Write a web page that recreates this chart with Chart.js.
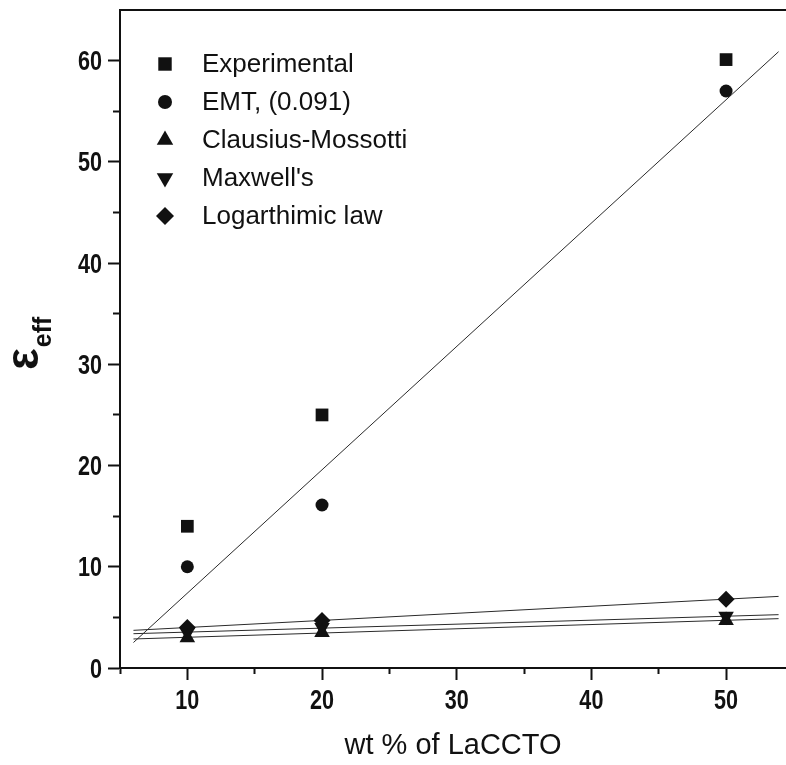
<!DOCTYPE html>
<html>
<head>
<meta charset="utf-8">
<script src="https://cdn.jsdelivr.net/npm/chart.js@4.4.1/dist/chart.umd.min.js"></script>
<style>
  html, body { margin: 0; padding: 0; background: #fff; }
  #wrap { width: 786px; height: 765px; }
</style>
</head>
<body>
<div id="wrap"><canvas id="chart" width="786" height="765"></canvas></div>
<script>
// wt % of LaCCTO in the composite
const wtPercent = [10, 20, 50];

// effective permittivity: measured and model predictions
const experimental     = [14, 25, 60.1];
const emt              = [10, 16.1, 57];
const clausiusMossotti = [3.0, 3.5, 4.7];
const maxwell          = [3.5, 4.0, 5.1];
const logarithmic      = [4.0, 4.7, 6.8];

const seriesNames = ['Experimental', 'EMT, (0.091)', 'Clausius-Mossotti', "Maxwell's", 'Logarthimic law'];

// axis ticks
const xMajorTicks = [10, 20, 30, 40, 50];
const xMinorTicks = [5, 15, 25, 35, 45];
const yMajorTicks = [0, 10, 20, 30, 40, 50, 60];
const yMinorTicks = [5, 15, 25, 35, 45, 55];

// x range over which the linear fits are drawn
const fitSpan = [6, 53.9];

const INK = '#111';
const X_MIN = 5, X_MAX = 54.45, Y_MIN = 0, Y_MAX = 65;

const markers = [
  { pointStyle: 'rect',     rotation: 0,   radius: 9   },
  { pointStyle: 'circle',   rotation: 0,   radius: 6.5 },
  { pointStyle: 'triangle', rotation: 0,   radius: 9   },
  { pointStyle: 'triangle', rotation: 180, radius: 9   },
  { pointStyle: 'rectRot',  rotation: 0,   radius: 8.5 }
];

const allSeries = [experimental, emt, clausiusMossotti, maxwell, logarithmic];

// least-squares straight line through a series
function linearFit(xs, ys) {
  const n = xs.length;
  const mx = xs.reduce((a, b) => a + b, 0) / n;
  const my = ys.reduce((a, b) => a + b, 0) / n;
  let sxy = 0, sxx = 0;
  for (let i = 0; i < n; i++) {
    sxy += (xs[i] - mx) * (ys[i] - my);
    sxx += (xs[i] - mx) * (xs[i] - mx);
  }
  const slope = sxy / sxx;
  return { slope, intercept: my - slope * mx };
}

function fitLine(ys) {
  const f = linearFit(wtPercent, ys);
  return fitSpan.map(x => ({ x, y: f.intercept + f.slope * x }));
}

const pointSets = allSeries.map((ys, i) => ({
  label: seriesNames[i],
  data: wtPercent.map((x, j) => ({ x, y: ys[j] })),
  showLine: false,
  pointStyle: markers[i].pointStyle,
  rotation: markers[i].rotation,
  pointRadius: markers[i].radius,
  pointHoverRadius: markers[i].radius,
  backgroundColor: INK,
  borderColor: INK,
  borderWidth: 0
}));

// fitted lines for EMT and the three mixing laws
const lineSets = [emt, clausiusMossotti, maxwell, logarithmic].map(ys => ({
  label: '',
  data: fitLine(ys),
  showLine: true,
  borderColor: '#2a2a2a',
  borderWidth: 1,
  pointRadius: 0,
  pointHoverRadius: 0,
  fill: false
}));

const SANS = "'Liberation Sans', Arial, sans-serif";

function fixedTicks(list) {
  return scale => { scale.ticks = list.map(v => ({ value: v })); };
}

function noPadding(size) {
  return s => {
    if (s.isHorizontal()) s.height = size; else s.width = size;
    s.paddingTop = 0; s.paddingBottom = 0; s.paddingLeft = 0; s.paddingRight = 0;
  };
}

// condensed bold tick numbers, placed with the scales' own pixel mapping
function drawCondensed(ctx, text, x, y, align) {
  ctx.save();
  ctx.translate(x, y);
  ctx.scale(0.8, 1);
  ctx.textAlign = align;
  ctx.fillText(text, 0, 0);
  ctx.restore();
}

const annotations = {
  id: 'annotations',
  afterDraw(chart) {
    const ctx = chart.ctx;
    const xs = chart.scales.x, ys = chart.scales.y;
    ctx.save();
    ctx.fillStyle = INK;
    ctx.strokeStyle = INK;

    // tick numbers
    ctx.font = 'bold 27px ' + SANS;
    ctx.textBaseline = 'alphabetic';
    xMajorTicks.forEach(v => drawCondensed(ctx, String(v), xs.getPixelForValue(v), xs.top + 41, 'center'));
    yMajorTicks.forEach(v => drawCondensed(ctx, String(v), ys.right - 18, ys.getPixelForValue(v) + 9.5, 'right'));

    // legend in the upper left of the plot
    const symX = 165, textX = 202, rowY0 = 64, rowGap = 38;
    seriesNames.forEach((name, i) => {
      const y = rowY0 + i * rowGap;
      const m = markers[i];
      const opts = { pointStyle: m.pointStyle, rotation: m.rotation, radius: m.radius + 0.5, borderWidth: 0 };
      if (Chart.helpers && Chart.helpers.drawPoint) {
        Chart.helpers.drawPoint(ctx, opts, symX, y);
      }
      ctx.font = '26px ' + SANS;
      ctx.textAlign = 'left';
      ctx.textBaseline = 'middle';
      ctx.fillText(name, textX, y + 1);
    });

    // rotated y-axis title: ε with subscript "eff"
    ctx.translate(38, 370);
    ctx.rotate(-Math.PI / 2);
    ctx.textAlign = 'left';
    ctx.textBaseline = 'alphabetic';
    ctx.font = 'bold 46px ' + SANS;
    ctx.fillText('ε', 0, 0);
    const w = ctx.measureText('ε').width;
    ctx.font = 'bold 25px ' + SANS;
    ctx.fillText('eff', w + 1, 13);
    ctx.restore();
  }
};

new Chart(document.getElementById('chart'), {
  type: 'scatter',
  data: { datasets: [...pointSets, ...lineSets] },
  options: {
    responsive: false,
    animation: false,
    devicePixelRatio: 1,
    layout: { padding: 0, autoPadding: false },
    plugins: { legend: { display: false }, tooltip: { enabled: false } },
    scales: {
      x: {
        type: 'linear', position: 'bottom', min: X_MIN, max: X_MAX, weight: 1,
        afterBuildTicks: fixedTicks(xMajorTicks),
        afterFit: noPadding(97),
        grid: { drawOnChartArea: false, tickLength: 12, tickWidth: 2, tickColor: INK },
        border: { display: true, width: 2, color: INK },
        ticks: { display: false },
        title: {
          display: true, text: 'wt % of LaCCTO', color: INK,
          font: { family: SANS, size: 29 },
          padding: { top: 0, bottom: 2 }
        }
      },
      xMinor: {
        type: 'linear', position: 'bottom', min: X_MIN, max: X_MAX, weight: 0,
        afterBuildTicks: fixedTicks(xMinorTicks),
        afterFit: noPadding(0),
        grid: { drawOnChartArea: false, tickLength: 6, tickWidth: 2, tickColor: INK },
        border: { display: false },
        ticks: { display: false }
      },
      xTop: {
        type: 'linear', position: 'top', min: X_MIN, max: X_MAX,
        afterBuildTicks: fixedTicks([]),
        afterFit: noPadding(10),
        grid: { drawOnChartArea: false, drawTicks: false },
        border: { display: true, width: 2, color: INK },
        ticks: { display: false }
      },
      y: {
        type: 'linear', position: 'left', min: Y_MIN, max: Y_MAX, weight: 1,
        afterBuildTicks: fixedTicks(yMajorTicks),
        afterFit: noPadding(120),
        grid: { drawOnChartArea: false, tickLength: 12, tickWidth: 2, tickColor: INK },
        border: { display: true, width: 2, color: INK },
        ticks: { display: false }
      },
      yMinor: {
        type: 'linear', position: 'left', min: Y_MIN, max: Y_MAX, weight: 0,
        afterBuildTicks: fixedTicks(yMinorTicks),
        afterFit: noPadding(0),
        grid: { drawOnChartArea: false, tickLength: 7, tickWidth: 2, tickColor: INK },
        border: { display: false },
        ticks: { display: false }
      }
    }
  },
  plugins: [annotations]
});
</script>
</body>
</html>
